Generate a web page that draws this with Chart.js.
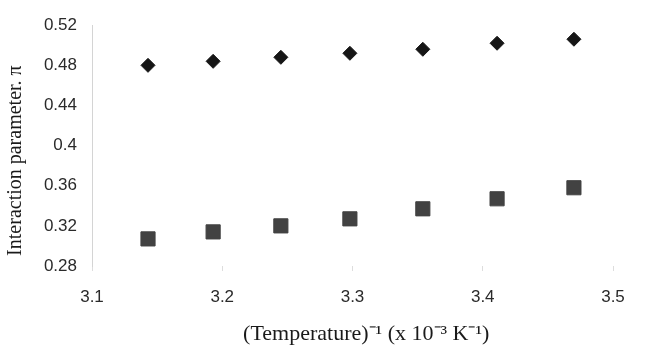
<!DOCTYPE html>
<html>
<head>
<meta charset="utf-8">
<script src="https://cdn.jsdelivr.net/npm/chart.js@4/dist/chart.umd.min.js"></script>
<style>
  html, body { margin: 0; padding: 0; background: #ffffff; }
  #wrap { width: 651px; height: 348px; }
</style>
</head>
<body>
<div id="wrap"><canvas id="c" width="651" height="348"></canvas></div>
<script>
// Inverse temperature (x 10^-3 K^-1)
const invTemperature = [3.143, 3.193, 3.245, 3.298, 3.354, 3.411, 3.470];
// Interaction parameter, series 1 (diamonds)
const seriesDiamond = [0.480, 0.484, 0.488, 0.492, 0.496, 0.502, 0.506];
// Interaction parameter, series 2 (squares)
const seriesSquare = [0.307, 0.314, 0.320, 0.327, 0.337, 0.347, 0.358];
// Tick labels
const xTickValues = [3.1, 3.2, 3.3, 3.4, 3.5];
const xTickLabels = ['3.1', '3.2', '3.3', '3.4', '3.5'];
const yTickValues = [0.28, 0.32, 0.36, 0.40, 0.44, 0.48, 0.52];
const yTickLabels = ['0.28', '0.32', '0.36', '0.4', '0.44', '0.48', '0.52'];
const xTitle = '\u00A0\u00A0\u00A0\u00A0\u00A0(Temperature)\u207B\u00B9 (x 10\u207B\u00B3 K\u207B\u00B9)';
const yTitle = 'Interaction parameter. \u03C0\u00A0\u00A0\u00A0\u00A0\u00A0\u00A0';

const toPoints = (xs, ys) => xs.map((x, i) => ({ x: x, y: ys[i] }));

new Chart(document.getElementById('c'), {
  type: 'scatter',
  data: {
    datasets: [
      {
        data: toPoints(invTemperature, seriesDiamond),
        pointStyle: 'rectRot',
        pointRadius: 7,
        pointBorderWidth: 1,
        backgroundColor: '#161616',
        borderColor: '#161616'
      },
      {
        data: toPoints(invTemperature, seriesSquare),
        pointStyle: 'rect',
        pointRadius: 10,
        pointBorderWidth: 1,
        backgroundColor: '#424242',
        borderColor: '#424242'
      }
    ]
  },
  options: {
    responsive: false,
    animation: false,
    events: [],
    layout: { padding: { left: 0, right: 38, top: 21, bottom: 0 } },
    plugins: { legend: { display: false }, tooltip: { enabled: false } },
    scales: {
      x: {
        type: 'linear',
        min: 3.1,
        max: 3.5,
        afterBuildTicks: (s) => { s.ticks = xTickValues.map(v => ({ value: v })); },
        afterFit: (s) => { s.height = 82; },
        ticks: {
          callback: (v) => { const i = xTickValues.findIndex(t => Math.abs(t - v) < 1e-6); return i >= 0 ? xTickLabels[i] : ''; },
          font: { family: 'Liberation Sans', size: 17 },
          color: '#2a2a2a',
          padding: 16,
          maxRotation: 0
        },
        grid: { drawOnChartArea: false, drawTicks: true, tickLength: 5, color: '#dddddd' },
        border: { display: false },
        title: {
          display: true,
          text: xTitle,
          font: { family: 'Liberation Serif', size: 22 },
          color: '#1a1a1a',
          padding: { top: 0, bottom: 1 }
        }
      },
      y: {
        type: 'linear',
        min: 0.28,
        max: 0.52,
        afterBuildTicks: (s) => { s.ticks = yTickValues.map(v => ({ value: v })); },
        afterFit: (s) => { s.width = 92; },
        ticks: {
          callback: (v) => { const i = yTickValues.findIndex(t => Math.abs(t - v) < 1e-6); return i >= 0 ? yTickLabels[i] : ''; },
          font: { family: 'Liberation Sans', size: 17 },
          color: '#2a2a2a',
          padding: 15
        },
        grid: { display: false, drawTicks: false },
        border: { display: true, color: '#d4d4d4', width: 1 },
        title: {
          display: true,
          text: yTitle,
          font: { family: 'Liberation Serif', size: 20 },
          color: '#1a1a1a',
          padding: { top: 4, bottom: 4 }
        }
      }
    }
  }
});
</script>
</body>
</html>
